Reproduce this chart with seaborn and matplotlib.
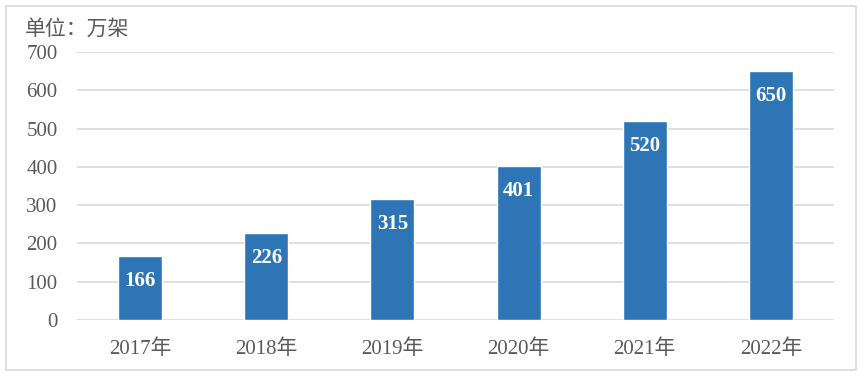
import matplotlib
matplotlib.use("Agg")
import matplotlib.pyplot as plt
import seaborn as sns
import pandas as pd
from matplotlib.patches import Rectangle

years = ["2017年", "2018年", "2019年", "2020年", "2021年", "2022年"]
values = [166, 226, 315, 401, 520, 650]
yticks = [0, 100, 200, 300, 400, 500, 600, 700]

sns.set_theme(style="white")
plt.rcParams['font.family'] = ['Liberation Serif', 'Noto Sans CJK SC', 'DejaVu Sans']

df = pd.DataFrame({"year": years, "value": values})

fig = plt.figure(figsize=(8.65, 3.76), dpi=100)
ax = fig.add_axes([77/865, 56/376, (834-77)/865, (320-52)/376])

sns.barplot(data=df, x="year", y="value", color="#2e75b6", saturation=1,
            width=0.35, ax=ax, zorder=3)

ax.set_ylim(0, 700)
ax.set_yticks(yticks)
ax.set_xlim(-0.5, len(years) - 0.5)
ax.yaxis.grid(True, color="#d9d9d9", linewidth=1.2, zorder=0)
ax.xaxis.grid(False)
for s in ax.spines.values():
    s.set_visible(False)
ax.set_xlabel("")
ax.set_ylabel("")
ax.tick_params(axis="both", length=0, labelsize=15, labelcolor="#595959")
ax.tick_params(axis="y", pad=14)
ax.tick_params(axis="x", pad=14)

for i, v in enumerate(values):
    ax.annotate(str(v), (i, v), xytext=(0, -25), textcoords="offset pixels",
                ha="center", va="center", color="white", fontsize=15,
                fontweight="bold", zorder=4)

fig.text(25/865, 1 - 30/376, "单位：万架", fontsize=15, color="#595959",
         ha="left", va="center")

fig.patches.append(Rectangle((6/865, 6/376), (856-6)/865, (370-6)/376,
                             transform=fig.transFigure, fill=False,
                             edgecolor="#d9d9d9", linewidth=1.2))

fig.savefig("out.png", dpi=100)
